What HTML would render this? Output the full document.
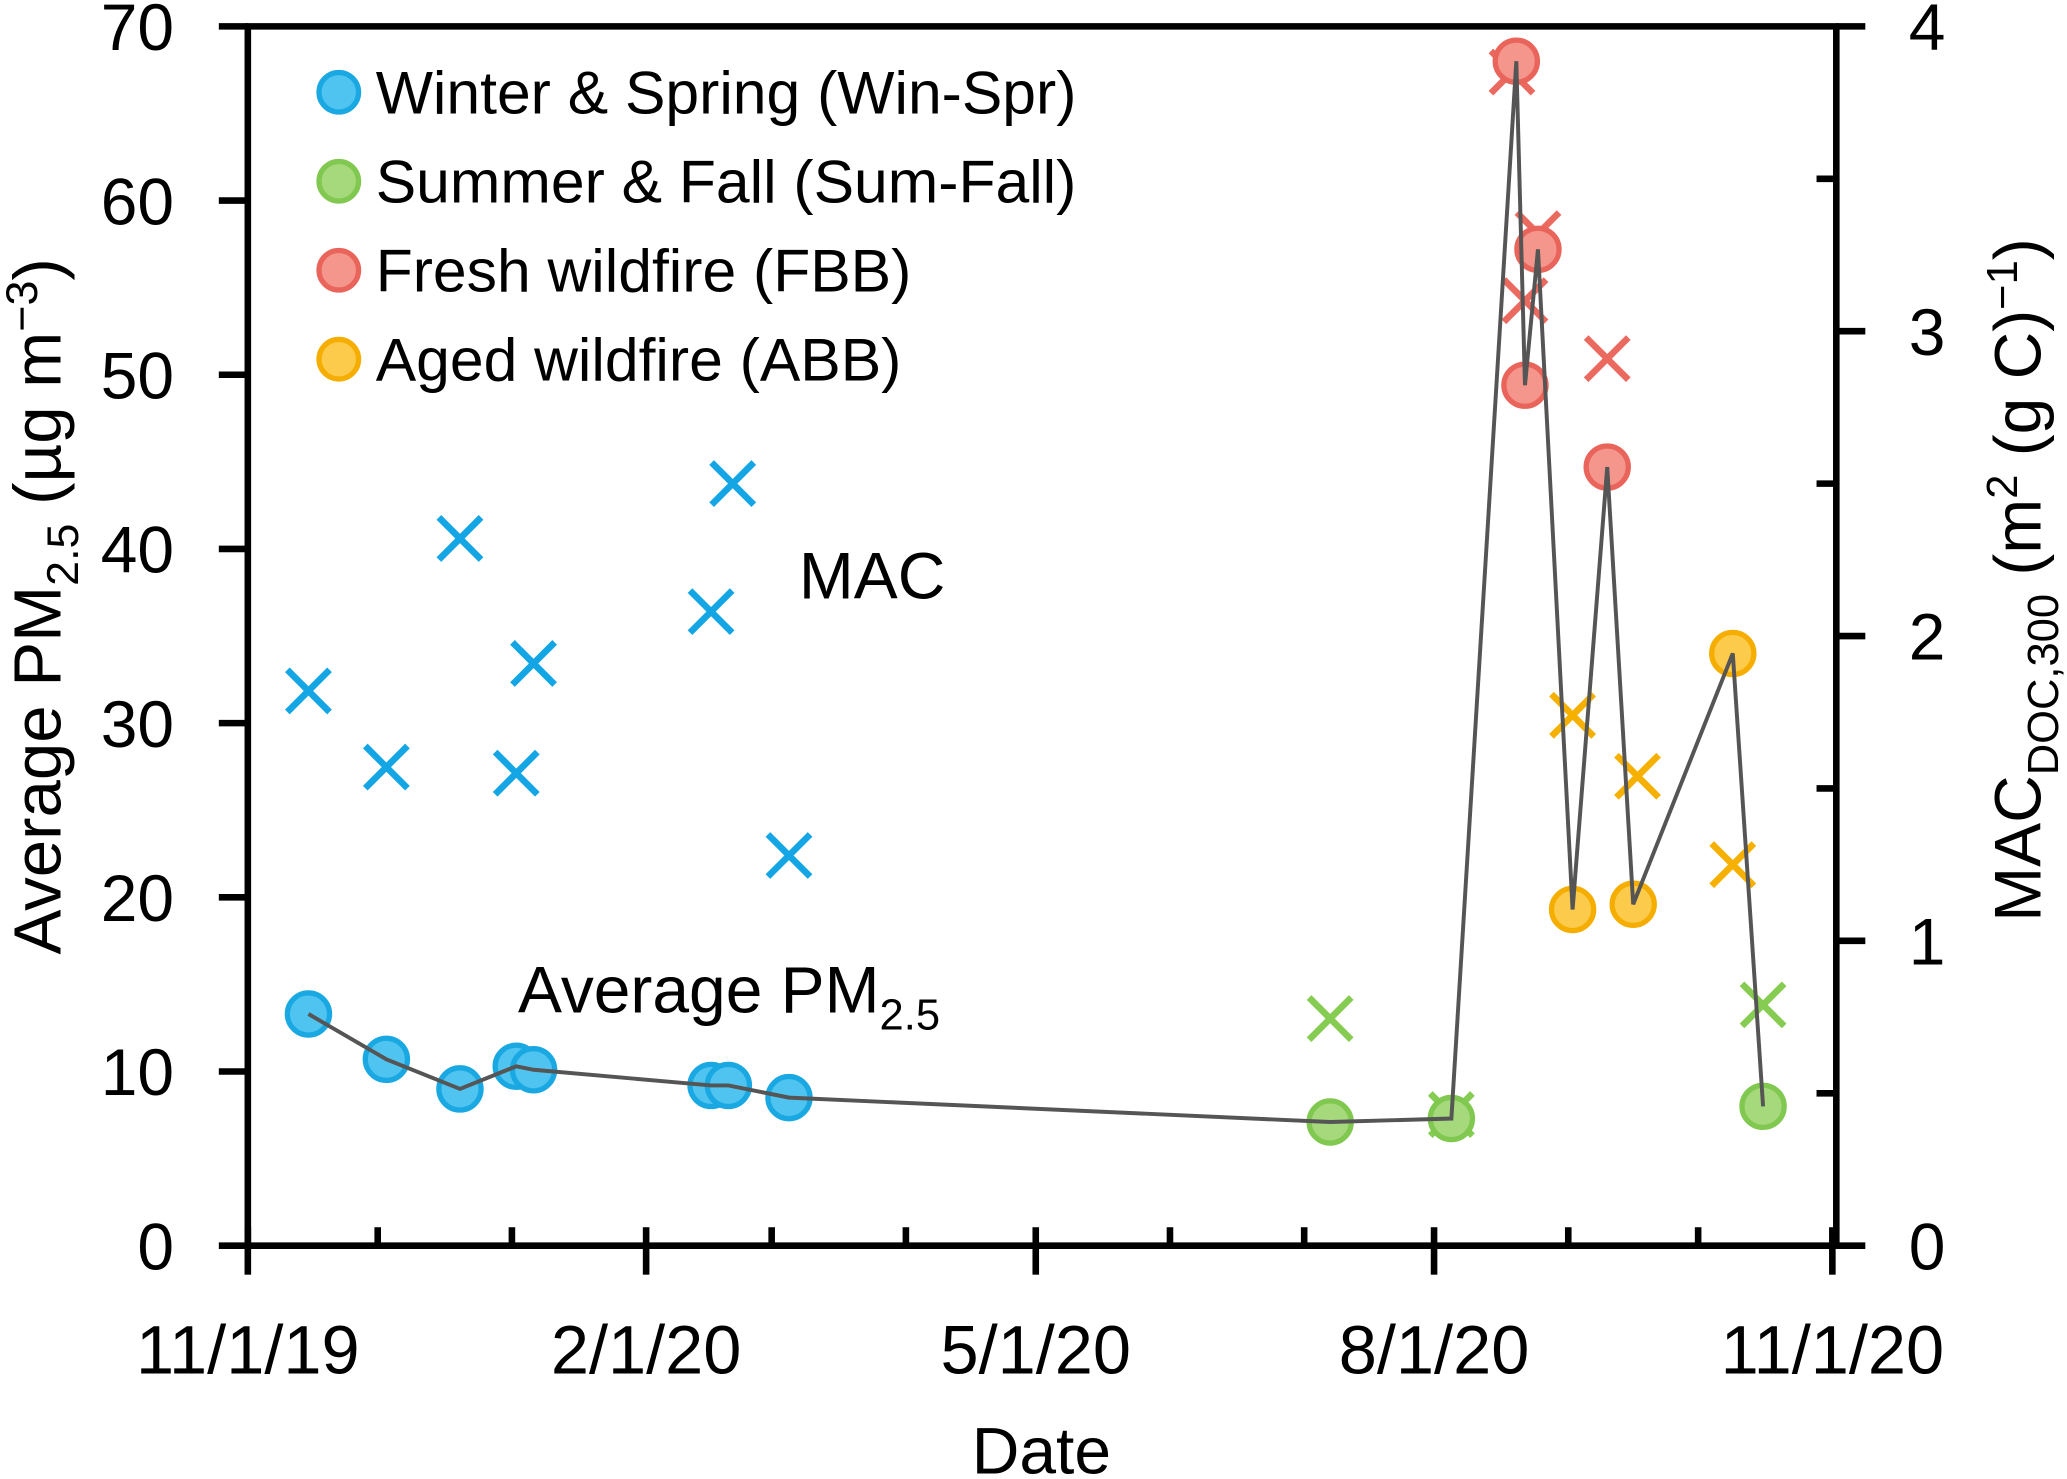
<!DOCTYPE html>
<html><head><meta charset="utf-8"><style>
html,body{margin:0;padding:0;background:#fff;}
svg{display:block;font-family:"Liberation Sans","DejaVu Sans",sans-serif;}
</style></head><body>
<svg id="chart" width="2067" height="1479" viewBox="0 0 1568 1122" preserveAspectRatio="none" xmlns="http://www.w3.org/2000/svg"></svg>
<script>
// Data (days since 11/1/2019)
const pmDays   = [14,32,49,62,66,107,111,125,250,278,293,295,298,306,314,320,343,350];
const pmValues = [13.3,10.7,9.0,10.3,10.1,9.2,9.2,8.5,7.1,7.3,68,49.4,57.2,19.3,44.7,19.6,34.0,8.0];
const pmGroups = ['w','w','w','w','w','w','w','w','s','s','f','f','f','a','f','a','a','s'];
const macDays   = [14,32,49,62,66,107,112,125,250,278,292,295,298,306,314,321,343,350];
const macValues = [1.82,1.57,2.32,1.55,1.91,2.08,2.50,1.28,0.745,0.43,3.85,3.10,3.32,1.74,2.91,1.54,1.25,0.79];
const macGroups = ['w','w','w','w','w','w','w','w','s','s','f','f','f','a','f','a','a','s'];
const xTickDays = [0,92,182,274,366];
const xTickLabels = ['11/1/19','2/1/20','5/1/20','8/1/20','11/1/20'];
const monthDays = [0,30,61,92,121,152,182,213,244,274,305,335,366];
const yLeftTicks = [0,10,20,30,40,50,60,70];
const yRightTicks = [0,1,2,3,4];

const X0=188,X1=1390,YB=945,YT=20;
const xs=d=>X0+d*(X1-X0)/366;
const yl=v=>YB-v*(YB-YT)/70;
const yr=v=>YB-v*(YB-YT)/4;
const fills={w:'#4fc4f0',s:'#a6d97c',f:'#f5968c',a:'#fdcb4c'};
const strokes={w:'#1aa8e2',s:'#80c850',f:'#e9655b',a:'#f5ae00'};
const crossC={w:'#14a6e4',s:'#86cc52',f:'#ea6a60',a:'#f5b000'};
const svg=document.getElementById('chart');
const NS='http://www.w3.org/2000/svg';
function mk(tag,attrs,parent){const e=document.createElementNS(NS,tag);for(const k in attrs)e.setAttribute(k,attrs[k]);(parent||svg).appendChild(e);return e;}
function txt(s,x,y,size,anchor,name){const t=mk('text',{x:x,y:y,'font-size':size,'text-anchor':anchor||'start',fill:'#000'});t.textContent=s;


return t;}

// axes
const ax=mk('g',{stroke:'#000','stroke-width':5,fill:'none'});


mk('line',{x1:X0,y1:YT,x2:X0,y2:YB+2},ax);
mk('line',{x1:X1+3,y1:YT,x2:X1+3,y2:YB+2},ax);
mk('line',{x1:X0-2,y1:YB,x2:X1+5,y2:YB},ax);
mk('line',{x1:X0-2,y1:YT,x2:X1+5,y2:YT},ax);
yLeftTicks.forEach(v=>{mk('line',{x1:X0-22,y1:yl(v),x2:X0,y2:yl(v)},ax);
 txt(String(v),132,yl(v)+18,50,'end','y-left-tick-label');});
yRightTicks.forEach(v=>{mk('line',{x1:X1+3,y1:yr(v),x2:X1+25,y2:yr(v)},ax);
 if(v<4) mk('line',{x1:X1-12,y1:yr(v+0.5),x2:X1+3,y2:yr(v+0.5)},ax);
 txt(String(v),1448,yr(v)+18,50,'start','y-right-tick-label');});
monthDays.forEach(d=>{mk('line',{x1:xs(d),y1:YB,x2:xs(d),y2:YB-14},ax);});
xTickDays.forEach((d,i)=>{mk('line',{x1:xs(d),y1:YB,x2:xs(d),y2:YB+22},ax);
 txt(xTickLabels[i],xs(d),1042,52,'middle','x-tick-label');});
txt('Date',790,1118,50,'middle','x-axis-title');

// axis titles
const lt=mk('text',{x:0,y:0,'font-size':51,'text-anchor':'middle',transform:'translate(46,460) rotate(-90)'});


lt.innerHTML='Average PM<tspan font-size="34" dy="13">2.5</tspan><tspan dy="-13"> (µg m</tspan><tspan font-size="34" dy="-18">−3</tspan><tspan dy="18">)</tspan>';
const rt=mk('text',{x:0,y:0,'font-size':50,'text-anchor':'middle',transform:'translate(1548,440) rotate(-90)'});


rt.innerHTML='MAC<tspan font-size="33" dy="13">DOC,300</tspan><tspan dy="-13"> (m</tspan><tspan font-size="33" dy="-18">2</tspan><tspan dy="18"> (g C)</tspan><tspan font-size="33" dy="-18">−1</tspan><tspan dy="18">)</tspan>';

// MAC crosses
macDays.forEach((d,i)=>{const g=mk('g',{stroke:crossC[macGroups[i]],'stroke-width':5});


const x=xs(d),y=yr(macValues[i]),s=16;
mk('line',{x1:x-s,y1:y-s,x2:x+s,y2:y+s},g);mk('line',{x1:x-s,y1:y+s,x2:x+s,y2:y-s},g);});

// PM circles
pmDays.forEach((d,i)=>{const c=mk('circle',{cx:xs(d),cy:yl(pmValues[i]),r:16,fill:fills[pmGroups[i]],stroke:strokes[pmGroups[i]],'stroke-width':4});

});
// PM line
const pl=mk('polyline',{points:pmDays.map((d,i)=>xs(d)+','+yl(pmValues[i])).join(' '),fill:'none',stroke:'#555','stroke-width':3});



// annotations
txt('MAC',606,454,50,'start','mac-annotation');
const pa=txt('',393,768,50,'start','pm-annotation');
pa.innerHTML='Average PM<tspan font-size="33" dy="13">2.5</tspan>';

// legend
const legNames=['Winter & Spring (Win-Spr)','Summer & Fall (Sum-Fall)','Fresh wildfire (FBB)','Aged wildfire (ABB)'];
const legKeys=['w','s','f','a'];
legKeys.forEach((k,i)=>{const y=70+i*67.5;
const c=mk('circle',{cx:257,cy:y,r:15,fill:fills[k],stroke:strokes[k],'stroke-width':4});


txt(legNames[i],285,y+16,46,'start','legend-entry');});
</script>
</body></html>
